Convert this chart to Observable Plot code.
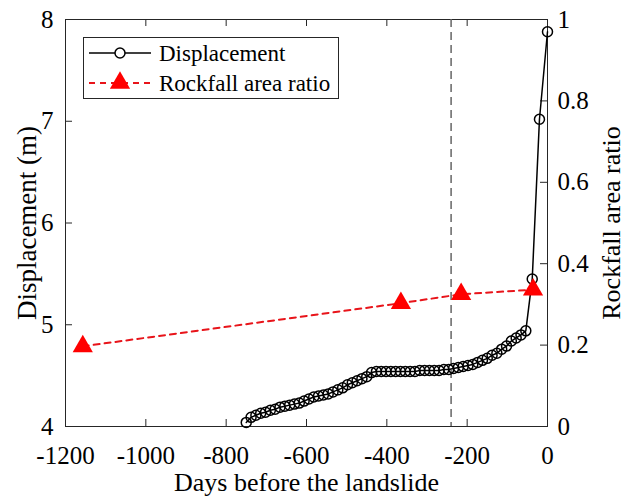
<!DOCTYPE html>
<html>
<head>
<meta charset="utf-8">
<script src="https://cdn.jsdelivr.net/npm/d3@7"></script>
<script src="https://cdn.jsdelivr.net/npm/@observablehq/plot@0.6"></script>
<style>
  html, body { margin: 0; padding: 0; background: #fff; }
  #wrap { position: relative; width: 626px; height: 497px; }
  #legend { position: absolute; left: 83px; top: 37px; }
  #wrap text { font-family: 'Liberation Serif', 'Times New Roman', serif !important; font-variant: normal !important; }
</style>
</head>
<body>
<div id="wrap"></div>
<script>
// ---- data ----
const dispDays = [-750,-738,-726,-714,-702,-690,-678,-666,-654,-642,-630,-618,-606,-594,-582,-570,-558,-546,-534,-522,-510,-498,-486,-474,-462,-450,-438,-426,-414,-402,-390,-378,-366,-354,-342,-330,-318,-306,-294,-282,-270,-258,-246,-234,-222,-210,-198,-186,-174,-162,-150,-138,-126,-114,-102,-90,-78,-66,-54,-38,-20,0];
const dispValues = [4.04,4.09,4.11,4.13,4.14,4.16,4.17,4.19,4.20,4.21,4.22,4.23,4.25,4.27,4.29,4.30,4.31,4.32,4.34,4.36,4.38,4.41,4.43,4.45,4.47,4.49,4.53,4.54,4.54,4.54,4.54,4.54,4.54,4.54,4.54,4.54,4.55,4.55,4.55,4.55,4.55,4.56,4.56,4.57,4.58,4.59,4.60,4.61,4.63,4.65,4.67,4.70,4.72,4.76,4.79,4.84,4.87,4.90,4.94,5.45,7.02,7.88];
const rockDays = [-1157, -365, -215, -36];
const rockRatio = [0.197, 0.303, 0.325, 0.336];
const eventDay = [-240];
const xTicks = [-1200,-1000,-800,-600,-400,-200,0];
const yTicksLeft = [4,5,6,7,8];
const yTicksRight = [0,0.2,0.4,0.6,0.8,1];
const seriesNames = ["Displacement", "Rockfall area ratio"];

// ---- layout ----
const W = 626, H = 497, mL = 65, mR = 79, mT = 19, mB = 71;
const pW = W - mL - mR, pH = H - mT - mB;
const font = "'Liberation Serif', 'Times New Roman', serif";
const toLeft = r => 4 + 4 * r; // right-axis ratio -> left-axis units

const disp = dispDays.map((d, i) => ({day: d, value: dispValues[i]}));
const rock = rockDays.map((d, i) => ({day: d, ratio: rockRatio[i]}));

const chart = Plot.plot({
  width: W, height: H,
  marginLeft: mL, marginRight: mR, marginTop: mT, marginBottom: mB,
  style: {fontFamily: font, fontSize: "24px", background: "#fff", color: "#000", overflow: "visible"},
  x: {domain: [-1200, 0]},
  y: {domain: [4, 8]},
  marks: [
    Plot.frame({stroke: "#262626", strokeWidth: 1}),
    // inward ticks
    Plot.tickX(xTicks, {x: d => d, insetTop: pH - 7, stroke: "#262626"}),
    Plot.tickX(xTicks, {x: d => d, insetBottom: pH - 7, stroke: "#262626"}),
    Plot.tickY(yTicksLeft, {y: d => d, insetRight: pW - 7, stroke: "#262626"}),
    Plot.tickY(yTicksRight, {y: d => toLeft(d), insetLeft: pW - 7, stroke: "#262626"}),
    // axes labels
    Plot.axisX(xTicks, {anchor: "bottom", tickSize: 0, tickPadding: 20, fontSize: 25, fontFamily: font, label: null, tickFormat: v => String(v)}),
    Plot.axisY(yTicksLeft, {anchor: "left", tickSize: 0, tickPadding: 12, fontSize: 25, fontFamily: font, label: null, tickFormat: v => String(v)}),
    Plot.axisY(yTicksRight.map(toLeft), {anchor: "right", tickSize: 0, tickPadding: 10, fontSize: 25, fontFamily: font, label: null,
      tickFormat: v => { const r = Math.round((v - 4) / 4 * 10) / 10; return r === 0 ? "0" : r === 1 ? "1" : r.toFixed(1); }}),
    Plot.text(["Days before the landslide"], {text: d => d, frameAnchor: "bottom", textAnchor: "middle", dy: 64, fontSize: 26, fontFamily: font}),
    Plot.text(["Displacement (m)"], {text: d => d, frameAnchor: "left", textAnchor: "middle", dx: -38, rotate: -90, fontSize: 27, fontFamily: font}),
    Plot.text(["Rockfall area ratio"], {text: d => d, frameAnchor: "right", textAnchor: "middle", dx: 64, rotate: -90, fontSize: 26, fontFamily: font}),
    // event line
    Plot.ruleX(eventDay, {x: d => d, stroke: "#666", strokeWidth: 1.5, strokeDasharray: "8,5"}),
    // displacement
    Plot.line(disp, {x: "day", y: "value", stroke: "#000", strokeWidth: 1.5}),
    Plot.dot(disp, {x: "day", y: "value", r: 5, stroke: "#000", strokeWidth: 1.5, fill: "none"}),
    // rockfall
    Plot.line(rock, {x: "day", y: d => toLeft(d.ratio), stroke: "#e8141a", strokeWidth: 2, strokeDasharray: "6,5"}),
    Plot.dot(rock, {x: "day", y: d => toLeft(d.ratio), symbol: "triangle", r: 7.5, fill: "#ff0000", stroke: "none"})
  ]
});
const wrap = document.getElementById("wrap");
wrap.appendChild(chart);
d3.select(chart).selectAll("g[aria-label$='tick label'], g[aria-label$='tick label'] text").attr("font-family", font).attr("font-variant", "normal");

// ---- legend ----
const lg = d3.select(wrap).append("div").attr("id", "legend")
  .append("svg").attr("width", 256).attr("height", 62)
  .style("font-family", font).style("font-size", "23px");
lg.append("rect").attr("x", 0.5).attr("y", 0.5).attr("width", 255).attr("height", 61)
  .attr("fill", "#fff").attr("stroke", "#262626");
// row 1
lg.append("line").attr("x1", 6).attr("x2", 68).attr("y1", 16).attr("y2", 16).attr("stroke", "#000").attr("stroke-width", 1.5);
lg.append("circle").attr("cx", 37).attr("cy", 16).attr("r", 5).attr("fill", "#fff").attr("stroke", "#000").attr("stroke-width", 1.5);
lg.append("text").attr("x", 76).attr("y", 16).attr("dy", "0.35em").text(seriesNames[0]);
// row 2
lg.append("line").attr("x1", 6).attr("x2", 68).attr("y1", 46).attr("y2", 46).attr("stroke", "#e8141a").attr("stroke-width", 2).attr("stroke-dasharray", "6,5");
lg.append("path").attr("transform", "translate(37,46)").attr("d", d3.symbol(d3.symbolTriangle, Math.PI * 7.5 * 7.5)()).attr("fill", "#ff0000");
lg.append("text").attr("x", 76).attr("y", 46).attr("dy", "0.35em").text(seriesNames[1]);
</script>
</body>
</html>
